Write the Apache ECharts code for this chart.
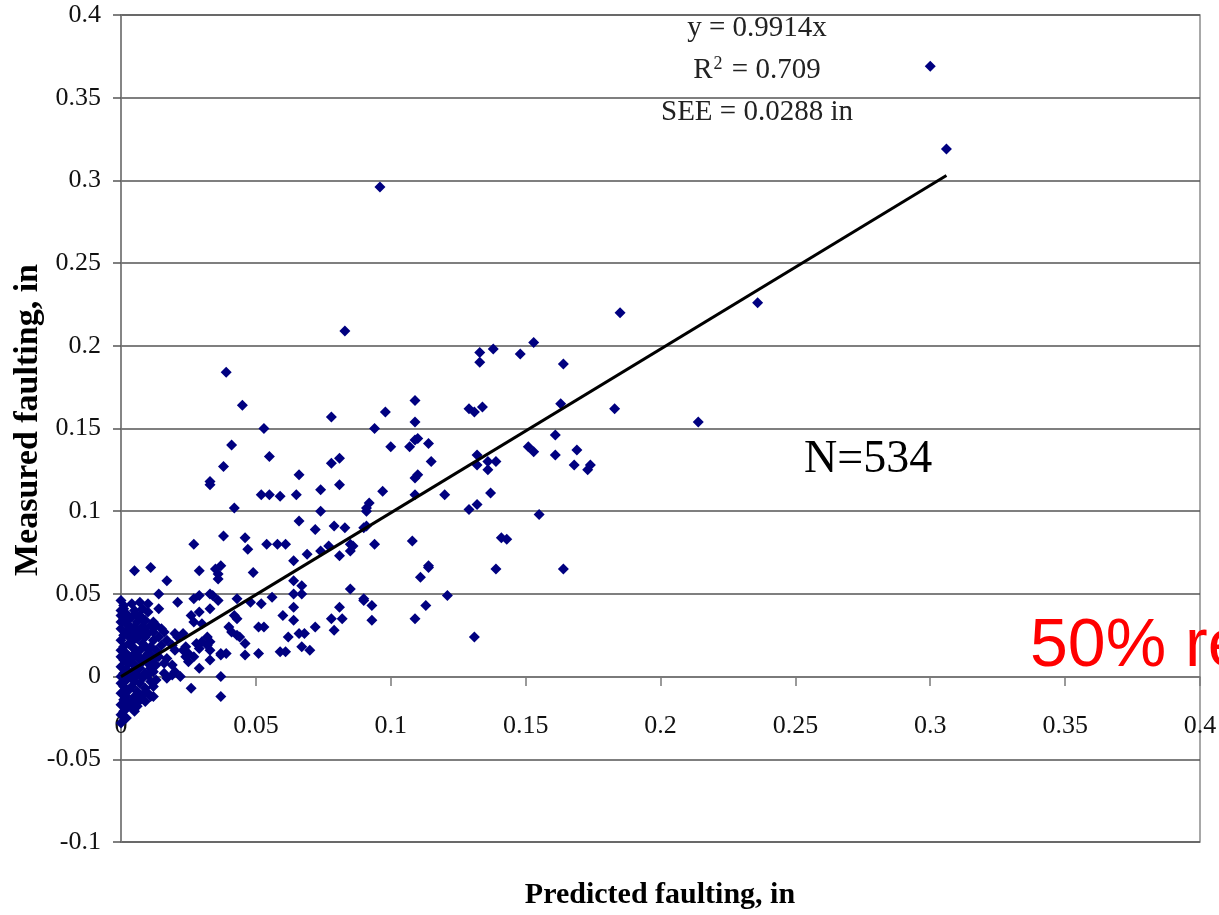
<!DOCTYPE html>
<html>
<head>
<meta charset="utf-8">
<script src="https://cdn.jsdelivr.net/npm/echarts@6/dist/echarts.min.js"></script>
<style>
  html, body { margin: 0; padding: 0; background: #fff; }
  #chart { width: 1219px; height: 915px; }
</style>
</head>
<body>
<div id="chart"></div>
<script>
// axis ticks
const xTicks = [0, 0.05, 0.1, 0.15, 0.2, 0.25, 0.3, 0.35, 0.4];
const yTicks = [-0.1, -0.05, 0, 0.05, 0.1, 0.15, 0.2, 0.25, 0.3, 0.35, 0.4];

// [predicted, measured] - spread-out points
const pointsSpread = [
    [0.300, 0.369], [0.306, 0.319], [0.096, 0.296], [0.236, 0.226], [0.185, 0.220], [0.083, 0.209],
    [0.153, 0.202], [0.133, 0.196], [0.133, 0.190], [0.138, 0.198], [0.148, 0.195], [0.164, 0.189],
    [0.039, 0.184], [0.045, 0.164], [0.053, 0.150], [0.078, 0.157], [0.109, 0.167], [0.109, 0.154],
    [0.098, 0.160], [0.094, 0.150], [0.041, 0.140], [0.038, 0.127], [0.033, 0.118], [0.033, 0.116],
    [0.055, 0.133], [0.042, 0.102], [0.066, 0.122], [0.078, 0.129], [0.081, 0.132], [0.081, 0.116],
    [0.100, 0.139], [0.107, 0.139], [0.109, 0.143], [0.110, 0.144], [0.114, 0.141], [0.115, 0.130],
    [0.109, 0.120], [0.110, 0.122], [0.097, 0.112], [0.109, 0.110], [0.120, 0.110], [0.052, 0.110],
    [0.055, 0.110], [0.059, 0.109], [0.065, 0.110], [0.074, 0.113], [0.074, 0.100], [0.092, 0.105],
    [0.091, 0.102], [0.091, 0.100], [0.066, 0.094], [0.072, 0.089], [0.079, 0.091], [0.083, 0.090],
    [0.090, 0.090], [0.091, 0.091], [0.038, 0.085], [0.046, 0.084], [0.027, 0.080], [0.054, 0.080],
    [0.058, 0.080], [0.061, 0.080], [0.108, 0.082], [0.094, 0.080], [0.086, 0.079],
    [0.129, 0.162], [0.131, 0.160], [0.134, 0.163], [0.163, 0.165], [0.183, 0.162], [0.214, 0.154],
    [0.161, 0.146], [0.132, 0.134], [0.132, 0.128], [0.136, 0.130], [0.136, 0.125], [0.139, 0.130],
    [0.151, 0.139], [0.153, 0.136], [0.161, 0.134], [0.169, 0.137], [0.168, 0.128], [0.173, 0.125],
    [0.174, 0.128], [0.137, 0.111], [0.129, 0.101], [0.132, 0.104], [0.155, 0.098], [0.141, 0.084],
    [0.143, 0.083], [0.114, 0.067], [0.114, 0.066], [0.111, 0.060], [0.139, 0.065], [0.164, 0.065],
    [0.121, 0.049], [0.113, 0.043], [0.109, 0.035], [0.131, 0.024],
    [0.090, 0.046], [0.093, 0.043], [0.093, 0.034],
    [0.047, 0.077], [0.085, 0.080], [0.085, 0.076], [0.077, 0.079], [0.081, 0.073], [0.074, 0.076],
    [0.069, 0.074], [0.064, 0.070], [0.005, 0.064], [0.011, 0.066], [0.029, 0.064], [0.035, 0.065],
    [0.036, 0.062], [0.037, 0.067], [0.036, 0.059], [0.049, 0.063], [0.017, 0.058], [0.014, 0.050],
    [0.021, 0.045], [0.027, 0.047], [0.029, 0.049], [0.033, 0.050], [0.043, 0.047], [0.048, 0.045],
    [0.052, 0.044], [0.056, 0.048], [0.064, 0.058], [0.064, 0.050], [0.067, 0.055], [0.067, 0.050],
    [0.060, 0.037], [0.064, 0.042], [0.064, 0.034], [0.066, 0.026], [0.068, 0.026], [0.070, 0.016],
    [0.067, 0.018], [0.062, 0.024], [0.059, 0.015], [0.061, 0.015], [0.051, 0.014], [0.046, 0.013],
    [0.051, 0.030], [0.053, 0.030], [0.042, 0.037], [0.043, 0.035], [0.040, 0.030], [0.041, 0.027],
    [0.043, 0.025], [0.046, 0.020], [0.044, 0.024], [0.037, 0.014], [0.039, 0.014], [0.034, 0.049],
    [0.033, 0.041], [0.029, 0.039], [0.030, 0.032], [0.026, 0.037], [0.027, 0.033], [0.032, 0.019],
    [0.033, 0.021], [0.033, 0.016], [0.028, 0.020], [0.029, 0.017], [0.033, 0.010], [0.029, 0.005],
    [0.037, 0.000], [0.026, -0.007], [0.037, -0.012], [0.024, 0.012], [0.025, 0.009], [0.022, 0.000],
    [0.020, 0.003], [0.019, 0.007], [0.021, 0.024], [0.020, 0.026], [0.024, 0.018], [0.025, 0.014],
    [0.014, 0.041], [0.012, 0.033], [0.013, 0.031], [0.015, 0.029], [0.016, 0.027], [0.017, 0.022],
    [0.019, 0.019], [0.017, 0.011], [0.016, 0.002], [0.017, -0.001], [0.012, -0.006], [0.010, -0.010],
    [0.009, -0.015], [0.011, -0.012], [0.004, -0.019], [0.001, -0.024], [0.000, -0.028],
    [0.085, 0.053], [0.081, 0.042], [0.078, 0.035], [0.079, 0.028], [0.082, 0.035], [0.090, 0.047],
    [0.072, 0.030], [0.036, 0.046], [0.023, 0.026], [0.030, 0.021], [0.032, 0.024], [0.020, 0.016],
    [0.023, 0.016], [0.027, 0.012], [0.037, 0.013], [0.016, 0.008], [0.019, 0.001], [0.012, -0.012]
];

// dense cluster close to the origin
const pointsCluster = [
    [0.000, 0.046], [0.001, 0.043], [0.000, 0.040], [0.002, 0.038], [0.001, 0.035], [0.000, 0.033],
    [0.003, 0.031], [0.000, 0.029], [0.002, 0.027], [0.001, 0.025], [0.000, 0.022], [0.003, 0.020],
    [0.001, 0.018], [0.000, 0.016], [0.002, 0.014], [0.000, 0.012], [0.001, 0.010], [0.003, 0.008],
    [0.000, 0.006], [0.002, 0.004], [0.001, 0.002], [0.000, 0.000], [0.002, -0.002], [0.000, -0.004],
    [0.001, -0.006], [0.003, -0.008], [0.000, -0.010], [0.002, -0.012], [0.001, -0.014], [0.000, -0.017],
    [0.002, -0.019], [0.001, -0.021], [0.000, -0.023], [0.003, -0.016],
    [0.004, 0.044], [0.005, 0.040], [0.004, 0.036], [0.006, 0.033], [0.004, 0.029], [0.005, 0.026],
    [0.006, 0.023], [0.004, 0.021], [0.005, 0.017], [0.006, 0.013], [0.004, 0.011], [0.005, 0.007],
    [0.004, 0.003], [0.006, 0.001], [0.005, -0.003], [0.004, -0.006], [0.006, -0.009], [0.005, -0.012],
    [0.004, -0.015], [0.006, -0.018], [0.005, -0.021],
    [0.007, 0.045], [0.008, 0.041], [0.007, 0.037], [0.009, 0.034], [0.008, 0.030], [0.007, 0.027],
    [0.009, 0.024], [0.008, 0.020], [0.007, 0.016], [0.009, 0.012], [0.008, 0.009], [0.007, 0.005],
    [0.009, 0.002], [0.008, -0.001], [0.007, -0.004], [0.009, -0.007], [0.008, -0.011], [0.007, -0.014],
    [0.006, -0.016],
    [0.010, 0.039], [0.011, 0.031], [0.010, 0.026], [0.012, 0.022], [0.011, 0.018], [0.010, 0.014],
    [0.012, 0.010], [0.011, 0.005], [0.010, 0.001], [0.012, 0.003], [0.011, -0.003], [0.013, 0.016],
    [0.012, 0.027], [0.014, 0.024], [0.013, 0.007], [0.014, 0.012], [0.015, 0.019], [0.013, -0.002],
    [0.001, 0.041], [0.002, 0.032], [0.003, 0.024], [0.001, 0.015], [0.002, 0.009], [0.003, 0.001],
    [0.001, -0.009], [0.002, -0.025], [0.000, 0.037], [0.003, 0.012], [0.004, 0.018], [0.005, 0.030],
    [0.006, 0.037], [0.007, 0.010], [0.006, 0.005], [0.005, 0.014], [0.004, 0.000], [0.003, 0.035],
    [0.006, 0.028], [0.008, 0.025], [0.009, 0.018], [0.010, 0.008], [0.011, 0.013], [0.009, 0.029],
    [0.008, 0.035], [0.010, 0.044]
];

// fitted line y = 0.9914x, end points
const fitLine = [[0, 0], [0.306, 0.303]];

const fitText = ['{r|y = 0.9914x}', '{r|R}{sup|2}{r| = 0.709}', '{r|SEE = 0.0288 in}'];

const serif = '"Liberation Serif", "Times New Roman", serif';
const fmt = v => String(+v.toFixed(2));

const chart = echarts.init(document.getElementById('chart'), null, { renderer: 'canvas' });

const option = {
    animation: false,
    grid: {
        left: 121,
        right: 19,
        top: 15,
        bottom: 73,
        containLabel: false,
        outerBoundsMode: 'none',
        show: true,
        borderColor: '#8c8c8c',
        borderWidth: 1.5,
    },
    xAxis: {
        type: 'value',
        min: 0,
        max: 0.4,
        interval: 0.05,
        // sits on y = 0 (165 px above the grid bottom), labels follow it
        offset: -165,
        axisLine: { onZero: false, lineStyle: { color: '#7a7a7a', width: 1.5 } },
        axisTick: { show: true, length: 9, lineStyle: { color: '#7a7a7a', width: 1.5 } },
        axisLabel: {
            fontFamily: serif, fontSize: 26, color: '#111', margin: 36,
            formatter: fmt, showMaxLabel: true, showMinLabel: true,
        },
        splitLine: { show: false },
    },
    yAxis: {
        type: 'value',
        min: -0.1,
        max: 0.4,
        interval: 0.05,
        axisLine: { show: true, onZero: false, lineStyle: { color: '#7a7a7a', width: 1.5 } },
        axisTick: { show: true, length: 8, lineStyle: { color: '#555', width: 1.5 } },
        axisLabel: { fontFamily: serif, fontSize: 26, color: '#111', margin: 20, formatter: fmt },
        splitLine: { show: true, lineStyle: { color: '#555', width: 1.5 } },
    },
    series: [
        {
            type: 'scatter',
            symbol: 'diamond',
            symbolSize: 11,
            itemStyle: { color: '#000080', opacity: 1 },
            data: pointsCluster.concat(pointsSpread),
            z: 2,
        },
        {
            type: 'line',
            data: fitLine,
            showSymbol: false,
            symbol: 'none',
            lineStyle: { color: '#000', width: 3 },
            z: 3,
        },
    ],
    graphic: [
        ...fitText.map((t, i) => ({
            type: 'text',
            x: 757,
            y: 28 + i * 42,
            style: {
                text: t,
                align: 'center',
                verticalAlign: 'middle',
                rich: {
                    r: { fontFamily: serif, fontSize: 29, fill: '#222' },
                    sup: { fontFamily: serif, fontSize: 18, fill: '#222', verticalAlign: 'top', padding: [0, 2, 10, 1] },
                },
            },
        })),
        {
            type: 'text',
            x: 804,
            y: 460,
            style: { text: 'N=534', fontFamily: serif, fontSize: 46, fill: '#000', verticalAlign: 'middle' },
        },
        {
            type: 'text',
            x: 1030,
            y: 647,
            style: {
                text: '50% reduction', fontFamily: '"Liberation Sans", Arial, sans-serif',
                fontSize: 68, fill: '#ff0000', verticalAlign: 'middle',
            },
        },
        {
            type: 'text',
            x: 660,
            y: 895,
            style: {
                text: 'Predicted faulting, in', fontFamily: serif, fontWeight: 'bold',
                fontSize: 30, fill: '#000', align: 'center', verticalAlign: 'middle',
            },
        },
        {
            type: 'text',
            x: 28,
            y: 420,
            rotation: Math.PI / 2,
            style: {
                text: 'Measured faulting, in', fontFamily: serif, fontWeight: 'bold',
                fontSize: 34, fill: '#000', align: 'center', verticalAlign: 'middle',
            },
        },
    ],
};

chart.setOption(option);
</script>
</body>
</html>
